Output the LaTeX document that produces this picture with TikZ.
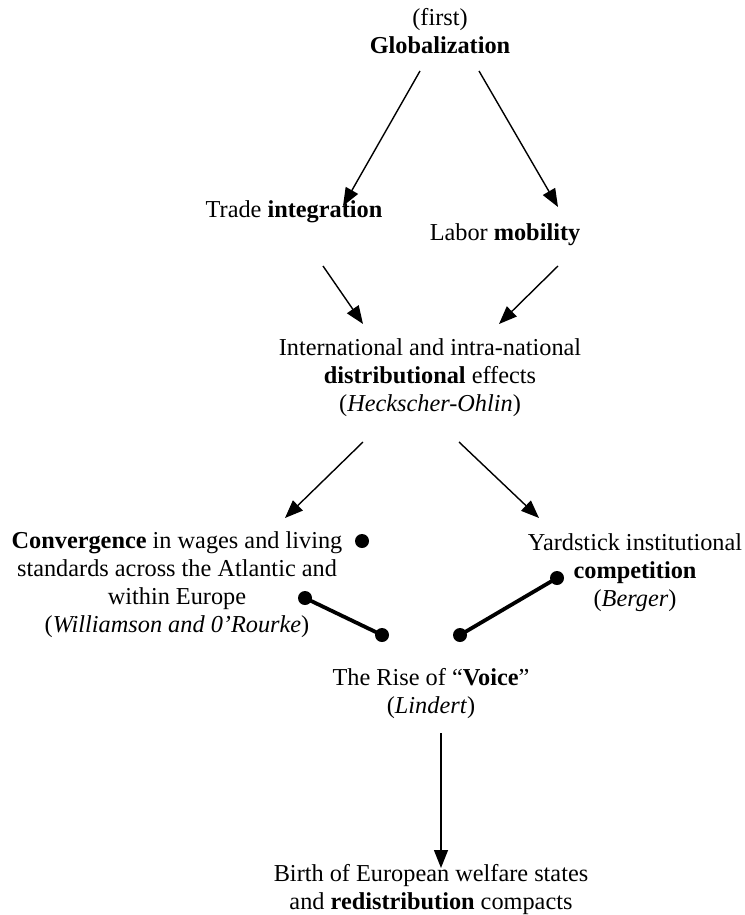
\documentclass[tikz,border=0pt]{standalone}
\usepackage{fontspec}
\setmainfont{Liberation Serif}
\usetikzlibrary{arrows.meta}
\begin{document}
\begin{tikzpicture}[x=1pt,y=-1pt,
  txt/.style={font=\fontsize{24.3}{28}\selectfont, align=center, inner sep=0pt},
  arr/.style={line width=1.4pt, -{Triangle[length=18pt,width=14pt]}},
  bar/.style={line width=3.8pt},
  dot/.style={circle, fill=black, inner sep=0pt, minimum size=14pt}]
\useasboundingbox (0,0) rectangle (744,915);
% nodes
\node[txt] (glob) at (440,31) {(first)\\\textbf{Globalization}};
\node[txt] (trade) at (294,212) {Trade \textbf{integration}};
\node[txt] (labor) at (505,235) {Labor \textbf{mobility}};
\node[txt] (intl) at (430,378) {International and intra-national\\\textbf{distributional} effects\\(\textit{Heckscher-Ohlin})};
\node[txt] (conv) at (177,585) {\textbf{Convergence} in wages and living\\standards across the Atlantic and\\within Europe\\(\textit{Williamson and 0’Rourke})};
\node[txt] (yard) at (635,573) {Yardstick institutional\\\textbf{competition}\\(\textit{Berger})};
\node[txt] (voice) at (431,694) {The Rise of “\textbf{Voice}”\\(\textit{Lindert})};
\node[txt] (birth) at (431,890) {Birth of European welfare states\\and \textbf{redistribution} compacts};
% arrow end points
\coordinate (a1s) at (420,71);  \coordinate (a1e) at (343,206);
\coordinate (a2s) at (479,71);  \coordinate (a2e) at (558,207);
\coordinate (a3s) at (323,266); \coordinate (a3e) at (363,324);
\coordinate (a4s) at (558,266); \coordinate (a4e) at (499,324);
\coordinate (a5s) at (363,442); \coordinate (a5e) at (285,518);
\coordinate (a6s) at (459,442); \coordinate (a6e) at (539,518);
\coordinate (a7s) at (441,733); \coordinate (a7e) at (441,868);
\draw[arr] (a1s) -- (a1e);
\draw[arr] (a2s) -- (a2e);
\draw[arr] (a3s) -- (a3e);
\draw[arr] (a4s) -- (a4e);
\draw[arr] (a5s) -- (a5e);
\draw[arr] (a6s) -- (a6e);
\draw[arr] (a7s) -- (a7e);
% dumbbell connectors
\node[dot] (d0) at (362,541) {};
\node[dot] (d1) at (305,598) {};
\node[dot] (d2) at (382,635) {};
\node[dot] (d3) at (460,635) {};
\node[dot] (d4) at (557,578) {};
\draw[bar] (d1.center) -- (d2.center);
\draw[bar] (d3.center) -- (d4.center);
\end{tikzpicture}
\end{document}
